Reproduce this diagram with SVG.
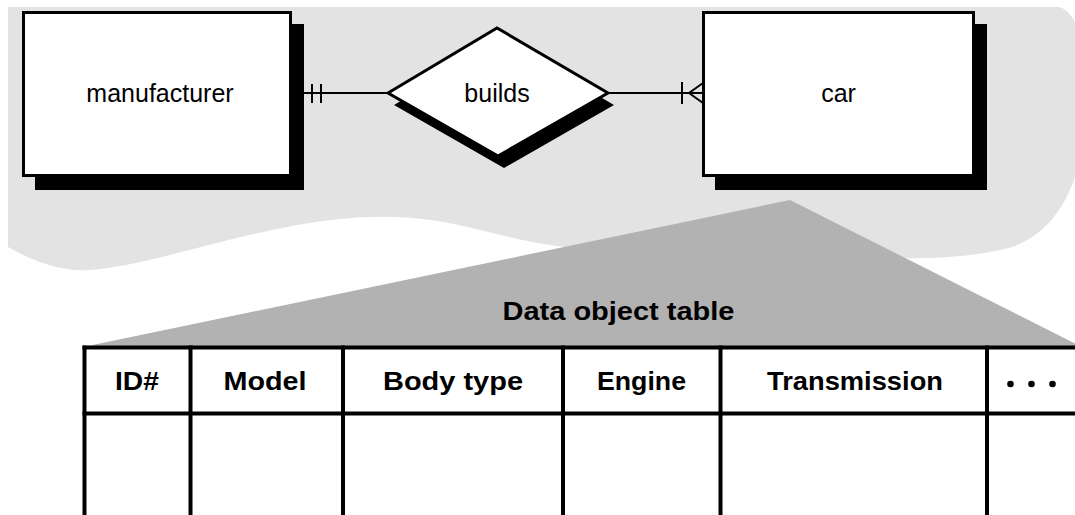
<svg xmlns="http://www.w3.org/2000/svg" width="1075" height="515" viewBox="0 0 1075 515">
  <style>
    .ent { fill: #ffffff; stroke: #000000; stroke-width: 3; }
    .shadow { fill: #000000; }
    .lbl { font-family: "Liberation Sans", Arial, sans-serif; font-size: 25px; fill: #000000; text-anchor: middle; }
    .hdr { font-family: "Liberation Sans", Arial, sans-serif; font-size: 26px; font-weight: bold; fill: #000000; text-anchor: middle; }
    .conn { stroke: #000000; stroke-width: 2; fill: none; }
    .tbl { stroke: #000000; stroke-width: 4; fill: none; }
  </style>

  <!-- background shapes -->
  <path id="background-cloud" fill="#e3e3e3" d="M 8,7 L 1058,7 C 1072,9 1082,30 1082,60 L 1082,130 C 1082,190 1050,238 1005,249 C 980,255 955,257 930,258 L 700,262 L 565,247 C 545,245 520,240 480,230 C 440,220 400,213 340,219 C 250,228 150,266 90,270 C 60,272 30,260 8,247 Z"/>
  <polygon id="zoom-wedge" fill="#b2b2b2" points="790,200 83,347 1080,347 1080,346"/>

  <!-- connectors -->
  <g id="connectors">
    <line class="conn" x1="304" y1="93" x2="389" y2="93"/>
    <line class="conn" x1="312" y1="84" x2="312" y2="103" stroke-width="2.5"/>
    <line class="conn" x1="321" y1="84" x2="321" y2="103" stroke-width="2.5"/>
    <line class="conn" x1="607" y1="93" x2="703" y2="93"/>
    <line class="conn" x1="682" y1="82" x2="682" y2="104" stroke-width="2.5"/>
    <polyline class="conn" points="703,83 689,93 703,103"/>
  </g>

  <!-- manufacturer entity -->
  <g id="manufacturer">
    <rect class="shadow" x="35" y="24" width="269" height="166"/>
    <rect class="ent" x="23.5" y="12.5" width="267" height="163"/>
    <text class="lbl" x="160" y="102">manufacturer</text>
  </g>

  <!-- builds relationship -->
  <g id="builds">
    <polygon class="shadow" points="394,105 503,40 614,105 504,168"/>
    <polygon class="ent" stroke-width="2.5" points="388,93 497,28 608,93 498,156"/>
    <text class="lbl" x="497" y="102">builds</text>
  </g>

  <!-- car entity -->
  <g id="car">
    <rect class="shadow" x="715" y="24" width="272" height="166"/>
    <rect class="ent" x="703.5" y="12.5" width="270" height="163"/>
    <text class="lbl" x="838.5" y="102">car</text>
  </g>

  <!-- data object table -->
  <g id="data-object-table">
    <text class="hdr" x="618.5" y="320" textLength="232" lengthAdjust="spacingAndGlyphs">Data object table</text>
    <rect x="84.5" y="347.5" width="1000" height="180" fill="#ffffff"/>
    <line class="tbl" x1="82.5" y1="347.5" x2="1080" y2="347.5"/>
    <line class="tbl" x1="82.5" y1="413.5" x2="1080" y2="413.5"/>
    <line class="tbl" x1="84.5" y1="345.5" x2="84.5" y2="520"/>
    <line class="tbl" x1="190.5" y1="345.5" x2="190.5" y2="520"/>
    <line class="tbl" x1="343" y1="345.5" x2="343" y2="520"/>
    <line class="tbl" x1="563" y1="345.5" x2="563" y2="520"/>
    <line class="tbl" x1="720.5" y1="345.5" x2="720.5" y2="520"/>
    <line class="tbl" x1="987" y1="345.5" x2="987" y2="520"/>
    <text class="hdr" x="137" y="390" textLength="44" lengthAdjust="spacingAndGlyphs">ID#</text>
    <text class="hdr" x="265" y="390" textLength="83" lengthAdjust="spacingAndGlyphs">Model</text>
    <text class="hdr" x="453" y="390" textLength="140" lengthAdjust="spacingAndGlyphs">Body type</text>
    <text class="hdr" x="641.5" y="390" textLength="89" lengthAdjust="spacingAndGlyphs">Engine</text>
    <text class="hdr" x="855" y="390" textLength="176" lengthAdjust="spacingAndGlyphs">Transmission</text>
    <circle cx="1010.5" cy="384" r="3.3" fill="#000000"/>
    <circle cx="1031.5" cy="384" r="3.3" fill="#000000"/>
    <circle cx="1052.5" cy="384" r="3.3" fill="#000000"/>
  </g>
</svg>
